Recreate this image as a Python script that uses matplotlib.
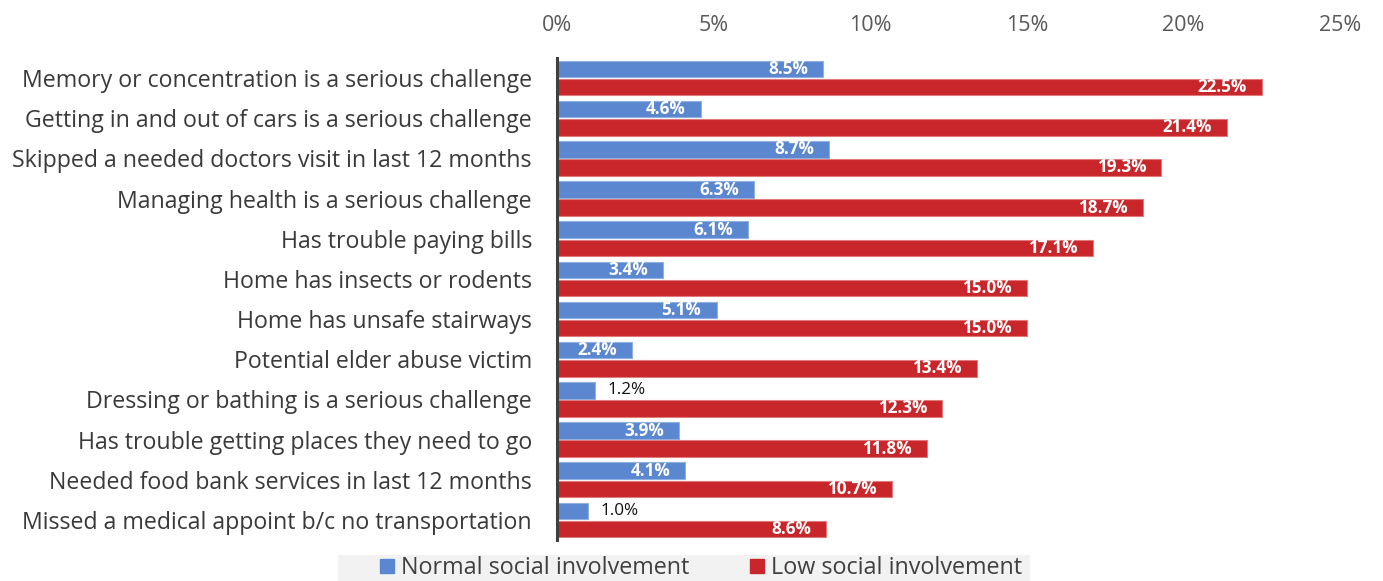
import numpy as np
import matplotlib
matplotlib.use("Agg")
import matplotlib.pyplot as plt
from matplotlib.patches import Rectangle, Patch

plt.rcParams["font.family"] = ["Open Sans", "DejaVu Sans"]

# data (percent), top to bottom
categories = [
    "Memory or concentration is a serious challenge",
    "Getting in and out of cars is a serious challenge",
    "Skipped a needed doctors visit in last 12 months",
    "Managing health is a serious challenge",
    "Has trouble paying bills",
    "Home has insects or rodents",
    "Home has unsafe stairways",
    "Potential elder abuse victim",
    "Dressing or bathing is a serious challenge",
    "Has trouble getting places they need to go",
    "Needed food bank services in last 12 months",
    "Missed a medical appoint b/c no transportation",
]
normal_social = [8.5, 4.6, 8.7, 6.3, 6.1, 3.4, 5.1, 2.4, 1.2, 3.9, 4.1, 1.0]
low_social = [22.5, 21.4, 19.3, 18.7, 17.1, 15.0, 15.0, 13.4, 12.3, 11.8, 10.7, 8.6]
x_ticks = [0, 5, 10, 15, 20, 25]

blue = "#5b87d0"
red = "#c8262a"

fig = plt.figure(figsize=(13.83, 5.81), dpi=100)
ax = fig.add_axes([0.4027, 0.0706, 0.5662, 0.8296])

y = np.arange(len(categories))
h = 0.41
gap = 0.02
b1 = ax.barh(y - h / 2 - gap, normal_social, height=h, color=blue,
             edgecolor="#8fb0e3", linewidth=0.8)
b2 = ax.barh(y + h / 2 + gap, low_social, height=h, color=red,
             edgecolor="#e07a7c", linewidth=0.8)

# data labels
for bars, vals in [(b1, normal_social), (b2, low_social)]:
    for bar, v in zip(bars, vals):
        yc = bar.get_y() + bar.get_height() / 2
        if v < 2:
            ax.annotate(f"{v:.1f}%", (v, yc), xytext=(9, 0), textcoords="offset points",
                        ha="left", va="center", fontsize=12.3, color="#111111")
        else:
            ax.annotate(f"{v:.1f}%", (v, yc), xytext=(-11, 0), textcoords="offset points",
                        ha="right", va="center", fontsize=12.3, color="white",
                        fontweight="bold")

ax.set_xlim(0, 25)
ax.set_ylim(len(categories) - 0.5, -0.5)
ax.set_yticks(y)
ax.set_yticklabels(categories, fontsize=16.7, color="#3a3a3a")
ax.set_xticks(x_ticks)
ax.set_xticklabels([f"{t}%" for t in x_ticks], fontsize=15.5, color="#595959")
ax.xaxis.tick_top()
ax.tick_params(axis="x", length=0, pad=16)
ax.tick_params(axis="y", length=0, pad=18)

for s in ["top", "right", "bottom"]:
    ax.spines[s].set_visible(False)
ax.spines["left"].set_color("#404040")
ax.spines["left"].set_linewidth(2.2)
ax.spines["left"].set_zorder(5)

# legend band at the bottom
fig.patches.append(Rectangle((0.2444, 0.0), 0.5004, 0.0447, transform=fig.transFigure,
                             facecolor="#f2f2f2", edgecolor="none", zorder=0))
handles = [Patch(color=blue, label="Normal social involvement"),
           Patch(color=red, label="Low social involvement")]
fig.legend(handles=handles, loc="center", bbox_to_anchor=(0.507, 0.022), ncol=2,
           frameon=False, fontsize=16.8, handlelength=0.6, handleheight=0.6,
           handletextpad=0.3, columnspacing=2.6, labelcolor="#404040")

fig.savefig("out.png", dpi=100)
